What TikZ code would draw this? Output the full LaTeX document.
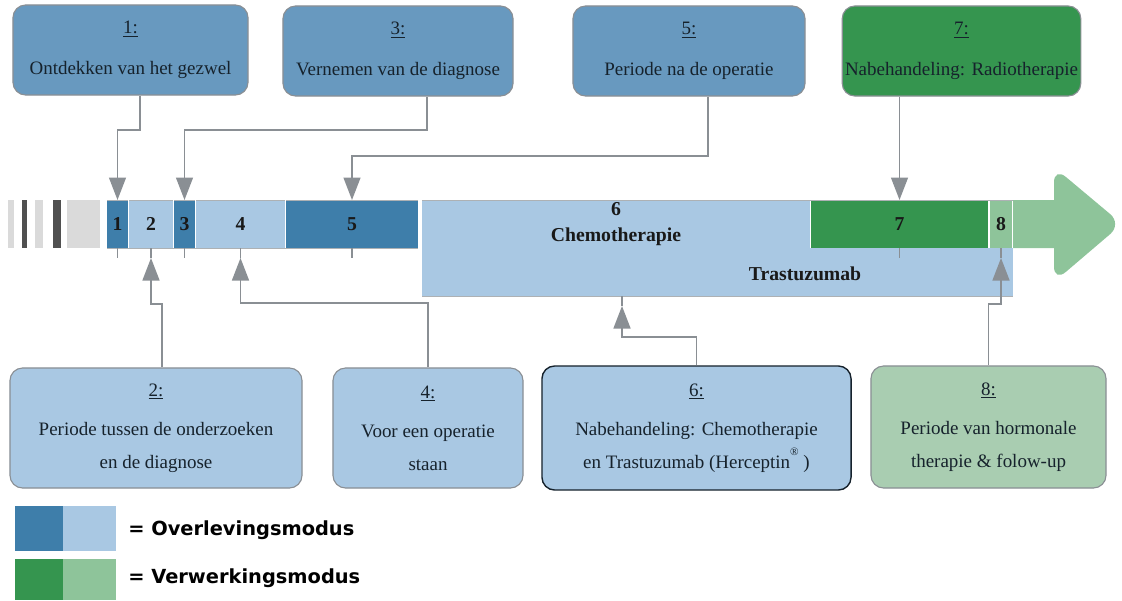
\documentclass[tikz,border=0pt]{standalone}
\usepackage{fontspec}
\setmainfont{Liberation Serif}
\newfontfamily\legendfont{DejaVu Sans}
\usetikzlibrary{arrows.meta}

\definecolor{darkblue}{HTML}{3E7EAA}
\definecolor{boxblue}{HTML}{6899BF}
\definecolor{lightblue}{HTML}{A9C8E3}
\definecolor{darkgreen}{HTML}{35954F}
\definecolor{lightgreen}{HTML}{8EC49A}
\definecolor{boxgreen}{HTML}{A9CDB1}
\definecolor{linegray}{HTML}{8A8F94}
\definecolor{stripegray}{HTML}{DADADA}
\definecolor{stripedark}{HTML}{505050}
\definecolor{boxtext}{HTML}{16222C}

\begin{document}
\begin{tikzpicture}[x=0.025cm, y=-0.025cm,
    box/.style={draw=linegray, line width=0.8pt, rounded corners=9pt, align=center,
        text=boxtext, inner sep=2pt, font=\fontsize{13.5}{23}\selectfont},
    topbox/.style={box, fill=boxblue, minimum height=2.25cm},
    lowbox/.style={box, fill=lightblue, minimum height=3cm},
    seg/.style={inner sep=0pt, outer sep=0pt, minimum height=1.2cm, align=center,
        font=\bfseries\fontsize{14}{18}\selectfont, text=black!90},
    conn/.style={draw=linegray, line width=1.3pt, -{Triangle[width=12pt,length=16pt]}},
    tick/.style={draw=linegray, line width=1.2pt},
    legend/.style={anchor=west, inner sep=0pt, font=\legendfont\bfseries\fontsize{13.8}{16}\selectfont}]
    \useasboundingbox (0,0) rectangle (1122,600);

    % stripes before the timeline
    \fill[stripegray] (8,200) rectangle (14,248);
    \fill[stripedark] (22,200) rectangle (27,248);
    \fill[stripegray] (35,200) rectangle (43,248);
    \fill[stripedark] (53,200) rectangle (61,248);
    \fill[stripegray] (67,200) rectangle (100,248);

    % timeline segments
    \node[seg, fill=darkblue, minimum width=0.525cm] (s1) at (117.5,224) {1};
    \node[seg, fill=lightblue, minimum width=1.1cm] (s2) at (151,224) {2};
    \node[seg, fill=darkblue, minimum width=0.525cm] (s3) at (184.5,224) {3};
    \node[seg, fill=lightblue, minimum width=2.225cm] (s4) at (240.5,224) {4};
    \node[seg, fill=darkblue, minimum width=3.3cm] (s5) at (352,224) {5};
    \node[seg, fill=lightblue, minimum width=9.7cm, font=\bfseries\fontsize{14}{19}\selectfont] (s6) at (616,224) {6\\Chemotherapie};
    \node[seg, fill=lightblue, minimum width=14.775cm] (s6t) at (717.5,272) {};
    \node[seg] (trast) at (805,274) {Trastuzumab};
    \node[seg, fill=darkgreen, minimum width=4.425cm] (s7) at (899.5,224) {7};
    \node[seg, fill=lightgreen, minimum width=0.55cm] (s8) at (1001,224) {8};
    \fill[lightgreen] (1013,200) -- (1054,200) [rounded corners=11pt] -- (1054,167)
        -- (1122,224) -- (1054,282) [sharp corners] -- (1054,248) -- (1013,248) -- cycle;
    % thin edges along the bar
    \draw[linegray!70, line width=0.4pt] (107,200) -- (418,200) (107,248) -- (418,248)
        (422,200) -- (1013,200) (422,296) -- (1013,296);
    \foreach \x in {128.5, 173.5, 195.5, 285.5, 420}
        \draw[white, line width=1pt] (\x,200) -- (\x,248);

    % ticks
    \foreach \n/\x in {1/117.5, 2/151, 3/184.5, 4/240.5, 5/352, 7/899.5, 8/1001}
        \draw[tick] (\x,248) -- (\x,258) coordinate (t\n);
    \draw[tick] (622,296) -- (622,306) coordinate (t6);

    % boxes above
    \node[topbox, minimum width=5.875cm] (b1) at (130.5,50) {\underline{1:}\\[6pt]Ontdekken van het gezwel};
    \node[topbox, minimum width=5.75cm] (b3) at (398,51) {\underline{3:}\\[6pt]Vernemen van de diagnose};
    \node[topbox, minimum width=5.8cm] (b5) at (689,51) {\underline{5:}\\[6pt]Periode na de operatie};
    \node[topbox, fill=darkgreen, minimum width=5.925cm] (b7) at (961.5,51) {\underline{7:}\\[6pt]Nabehandeling: Radiotherapie};

    % boxes below
    \node[lowbox, minimum width=7.3cm] (b2) at (156,428) {\underline{2:}\\[5pt]Periode tussen de onderzoeken\\en de diagnose};
    \node[lowbox, minimum width=4.75cm] (b4) at (428,428) {\underline{4:}\\[5pt]Voor een operatie\\staan};
    \node[lowbox, draw=boxtext, line width=1pt, minimum width=7.725cm, minimum height=3.1cm] (b6) at (696.5,428)
        {\underline{6:}\\[5pt]Nabehandeling: Chemotherapie\\en Trastuzumab (Herceptin\raisebox{1.4ex}{\fontsize{8}{8}\selectfont\textregistered}\ )};
    \node[lowbox, fill=boxgreen, minimum width=5.875cm, minimum height=3.05cm] (b8) at (988.5,427)
        {\underline{8:}\\[5pt]Periode van hormonale\\therapie \& folow-up};

    % connectors
    \draw[conn] (b1.south -| 140,0) |- (s1.north |- 0,130) -- (s1.north);
    \draw[conn] (b3.south -| 427,0) |- (s3.north |- 0,130) -- (s3.north);
    \draw[conn] (b5.south -| 708,0) |- (s5.north |- 0,156) -- (s5.north);
    \draw[conn] (b7.south -| s7.north) -- (s7.north);
    \draw[conn] (b2.north -| 162,0) |- (t2 |- 0,304) -- (t2);
    \draw[conn] (b4.north) |- (t4 |- 0,303) -- (t4);
    \draw[conn] (b6.north) |- (t6 |- 0,337) -- (t6);
    \draw[conn] (b8.north) |- (t8 |- 0,304) -- (t8);

    % legend
    \fill[darkblue] (15,506) rectangle (63,551);
    \fill[lightblue] (63,506) rectangle (116,551);
    \fill[darkgreen] (15,559) rectangle (63,600);
    \fill[lightgreen] (63,559) rectangle (116,600);
    \node[legend] (survival) at (128,530) {= Overlevingsmodus};
    \node[legend] (processing) at (128,578) {= Verwerkingsmodus};
\end{tikzpicture}
\end{document}
